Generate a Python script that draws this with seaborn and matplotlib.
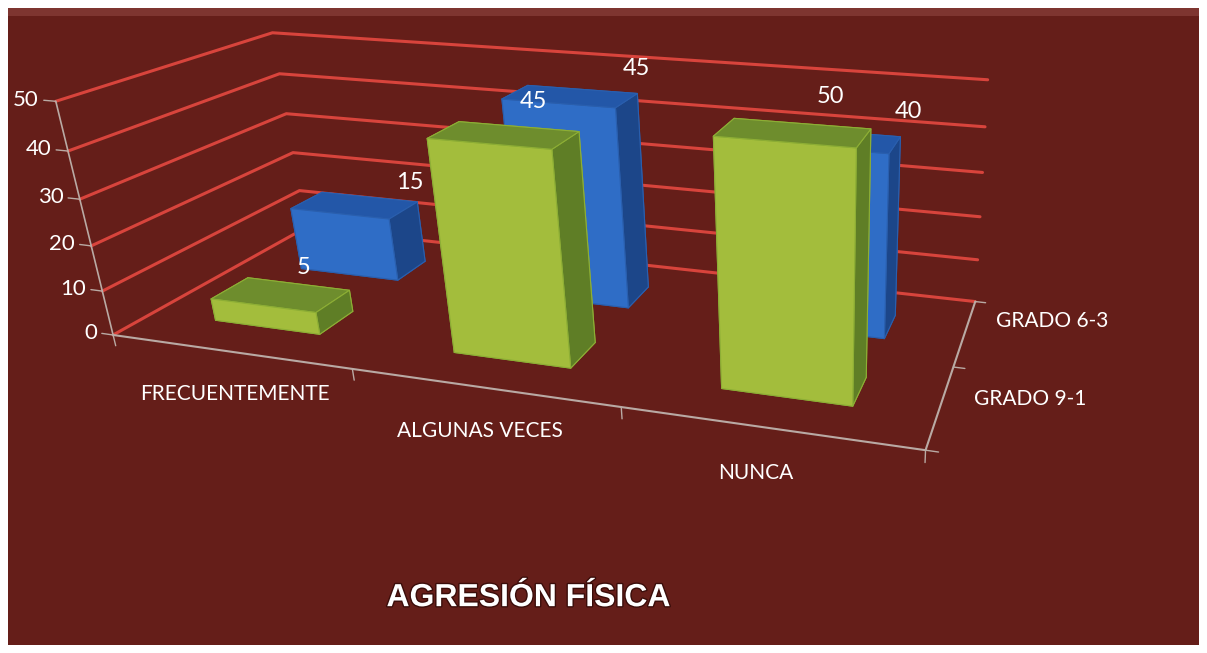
import numpy as np
import pandas as pd
import matplotlib
matplotlib.use("Agg")
import matplotlib.pyplot as plt
from matplotlib.patches import Rectangle
import matplotlib.patheffects as pe
import seaborn as sns

categories = ["FRECUENTEMENTE", "ALGUNAS VECES", "NUNCA"]
series = ["GRADO 9-1", "GRADO 6-3"]
grado_9_1 = [5, 45, 50]
grado_6_3 = [15, 45, 40]
z_ticks = [0, 10, 20, 30, 40, 50]
title = "AGRESIÓN FÍSICA"

df = pd.DataFrame({
    "categoria": categories * 2,
    "serie": [series[0]] * 3 + [series[1]] * 3,
    "valor": grado_9_1 + grado_6_3,
})

sns.set_theme(style="white")
plt.rcParams['font.family'] = ['Lato', 'DejaVu Sans']

BG = "#651E19"
GRID = "#D8443C"
AXIS = "#B9AAA4"
# face colours: -z, +z, -y, +y, -x, +x
faces = {
    "GRADO 9-1": ["#6E8D2D", "#6E8D2D", "#A3BD3C", "#7F9E30", "#8CA834", "#5F7E26"],
    "GRADO 6-3": ["#1E4E9A", "#2357A8", "#2F6DC6", "#23579F", "#2A62B5", "#1C4689"],
}
edges = {"GRADO 9-1": "#8DAE35", "GRADO 6-3": "#2A5FAE"}

fig = plt.figure(figsize=(12.07, 6.53), dpi=100)
fig.patch.set_facecolor("white")
fig.patches.append(Rectangle((0.007, 0.012), 0.986, 0.976, transform=fig.transFigure,
                             facecolor=BG, edgecolor="none", zorder=-5))
fig.patches.append(Rectangle((0.007, 0.976), 0.986, 0.012, transform=fig.transFigure,
                             facecolor="#7E3530", edgecolor="none", zorder=-4))

# box drawn from xlo..xhi; the limits reach further right so the camera sits to the right
xlo, xhi = -0.5, 2.5
ylo, yhi = -0.6, 1.6
xlim_hi = 4.5

ax = fig.add_axes([0.0472, -0.519, 1.221, 2.257], projection="3d", computed_zorder=False)
ax.patch.set_alpha(0)
ax.set_xlim(xlo, xlim_hi)
ax.set_ylim(ylo, yhi)
ax.set_zlim(0, 50)
ax.set_box_aspect((xlim_hi - xlo, (yhi - ylo) * 0.5, 0.88))
ax.set_proj_type("persp", focal_length=0.15)
ax.view_init(elev=22, azim=-75)
ax.set_axis_off()

line_kw = dict(zorder=1, clip_on=False)
# walls
for z in z_ticks:
    ax.plot([xlo, xlo, xhi], [ylo, yhi, yhi], [z, z, z], color=GRID, lw=2.2, **line_kw)
    ax.plot([xlo - 0.05, xlo], [ylo, ylo], [z, z], color=AXIS, lw=1, **line_kw)
    ax.text(xlo - 0.07, ylo, z, str(z), color="white", fontsize=16, ha="right", va="center")
ax.plot([xlo, xlo], [ylo, ylo], [0, 50], color=AXIS, lw=1.2, **line_kw)
ax.plot([xlo, xhi], [ylo, ylo], [0, 0], color=AXIS, lw=1.5, **line_kw)
ax.plot([xhi, xhi], [ylo, yhi], [0, 0], color=AXIS, lw=1.5, **line_kw)
for xt in np.arange(xlo, xhi + 0.01, 1.0):
    ax.plot([xt, xt], [ylo, ylo], [0, -2.5], color=AXIS, lw=1, **line_kw)
for yt in [ylo, 0.5, yhi]:
    ax.plot([xhi, xhi + 0.04], [yt, yt], [0, 0], color=AXIS, lw=1, **line_kw)

bw, bd = 0.45, 0.4
for j, s in enumerate(reversed(series)):
    sub = df[df["serie"] == s]
    yj = series.index(s)
    for i, (cat, v) in enumerate(zip(sub["categoria"], sub["valor"])):
        ax.bar3d(i - bw / 2, yj - bd / 2, 0, bw, bd, v, color=faces[s], shade=False,
                 edgecolor=edges[s], linewidth=0.8, zorder=2 + j, clip_on=False)
        ax.text(i + 0.12 + 0.15 * yj, yj, v + 7, str(v), color="white", fontsize=17,
                ha="center", va="center", zorder=10)

for i, cat in enumerate(categories):
    ax.text(i + 0.18 - 0.08 * i, ylo - 0.4, -2, cat, color="white", fontsize=15,
            ha="center", va="center")
for j, s in enumerate(series):
    ax.text(xhi + 0.1, j + 0.1 + 0.2 * j, 0, s, color="white", fontsize=15, ha="left", va="center")

fig.text(0.438, 0.084, title, color="white", fontsize=23, fontweight="bold",
         family=["Liberation Sans", "DejaVu Sans"], ha="center", va="center",
         path_effects=[pe.withStroke(linewidth=2, foreground="#3a0d0a")])

fig.savefig("out.png", dpi=100, facecolor=fig.get_facecolor())
